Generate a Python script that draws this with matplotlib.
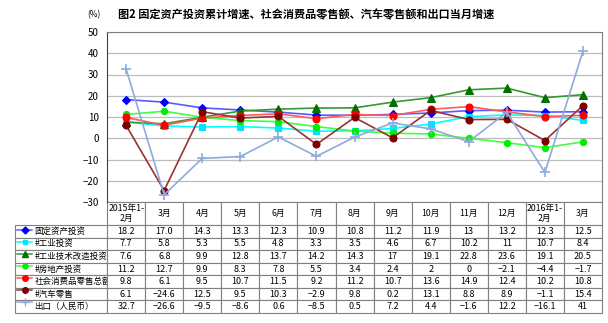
import matplotlib
matplotlib.use("Agg")
import matplotlib.pyplot as plt

plt.rcParams['font.family'] = ['Noto Sans CJK SC', 'DejaVu Sans']

months = ["2015年1-\n2月", "3月", "4月", "5月", "6月", "7月", "8月", "9月",
          "10月", "11月", "12月", "2016年1-\n2月", "3月"]

fixed_invest = [18.2, 17.0, 14.3, 13.3, 12.3, 10.9, 10.8, 11.2, 11.9, 13, 13.2, 12.3, 12.5]
ind_invest = [7.7, 5.8, 5.3, 5.5, 4.8, 3.3, 3.5, 4.6, 6.7, 10.2, 11, 10.7, 8.4]
tech_invest = [7.6, 6.8, 9.9, 12.8, 13.7, 14.2, 14.3, 17, 19.1, 22.8, 23.6, 19.1, 20.5]
estate_invest = [11.2, 12.7, 9.9, 8.3, 7.8, 5.5, 3.4, 2.4, 2, 0, -2.1, -4.4, -1.7]
retail = [9.8, 6.1, 9.5, 10.7, 11.5, 9.2, 11.2, 10.7, 13.6, 14.9, 12.4, 10.2, 10.8]
auto = [6.1, -24.6, 12.5, 9.5, 10.3, -2.9, 9.8, 0.2, 13.1, 8.8, 8.9, -1.1, 15.4]
export = [32.7, -26.6, -9.5, -8.6, 0.6, -8.5, 0.5, 7.2, 4.4, -1.6, 12.2, -16.1, 41]

names = ["固定资产投资", "#工业投资", "#工业技术改造投资", "#房地产投资",
         "社会消费品零售总额", "#汽车零售", "出口（人民币）"]
series = [fixed_invest, ind_invest, tech_invest, estate_invest, retail, auto, export]
# (line colour, marker, marker colour, marker size)
styles = [("#5a5aff", "D", "#0000ff", 4.5),
          ("#00ffff", "s", "#00e5ff", 4.5),
          ("#339933", "^", "#007000", 5.5),
          ("#40ff40", "o", "#00ee00", 4.5),
          ("#ff5a5a", "o", "#ff0000", 5),
          ("#993333", "o", "#800000", 5),
          ("#8faadc", "+", "#8faadc", 7)]


def fmt(v):
    return str(v).replace("-", "−")


def main():
    fig = plt.figure(figsize=(6.08, 3.23), dpi=100)
    ax = fig.add_axes([107 / 608, 1 - 202 / 323, 495 / 608, 170 / 323])

    x = list(range(len(months)))
    for vals, (lc, mk, mc, ms) in zip(series, styles):
        ax.plot(x, vals, color=lc, lw=1.2, marker=mk, markersize=ms,
                markerfacecolor=mc, markeredgecolor=mc,
                markeredgewidth=1.2 if mk == "+" else 0.8)

    ax.set_xlim(-0.5, len(months) - 0.5)
    ax.set_ylim(-30, 50)
    ax.set_yticks(range(-30, 51, 10))
    ax.set_yticklabels([fmt(t) for t in range(-30, 51, 10)], fontsize=7)
    ax.set_xticks([])
    ax.tick_params(axis="y", length=0, pad=6)
    ax.yaxis.grid(True, color="#bdbdbd", lw=0.9)
    ax.set_axisbelow(True)
    for side in ["top", "right"]:
        ax.spines[side].set_color("#808080")
    ax.spines["left"].set_color("#404040")
    ax.spines["bottom"].set_visible(False)

    # first column holds the series names (legend)
    cell_text = [[n] + [fmt(v) for v in vals] for n, vals in zip(names, series)]
    tbl = ax.table(cellText=cell_text, colLabels=[""] + months,
                   cellLoc="center",
                   colWidths=[92 / 495] + [38 / 495] * len(months),
                   bbox=[-92 / 495, -111 / 170, 587 / 495, 111 / 170])
    tbl.auto_set_font_size(False)
    tbl.set_fontsize(6.5)
    for (r, c), cell in tbl.get_celld().items():
        cell.set_edgecolor("#808080")
        cell.set_linewidth(0.8)
        cell.set_height(22 / 170 if r == 0 else 12 / 170)
        if r == 0:
            cell.get_text().set_fontsize(6.3)
            if c == 0:
                cell.visible_edges = ""
        if c == 0 and r > 0:
            cell._loc = "left"
            cell.get_text().set_ha("left")
            cell.PAD = 0.21
            cell.get_text().set_fontsize(6.1)

    # legend keys in the name cells
    for i, (lc, mk, mc, ms) in enumerate(styles):
        yc = 1 - (224 + 12 * i + 6) / 323
        fig.add_artist(plt.Line2D([17 / 608, 32 / 608], [yc, yc], color=lc, lw=1.1))
        fig.add_artist(plt.Line2D([24.5 / 608], [yc], marker=mk, markersize=ms - 1,
                                  markerfacecolor=mc, markeredgecolor=mc, color=lc))

    fig.text(306 / 608, 1 - 15 / 323,
             "图2 固定资产投资累计增速、社会消费品零售额、汽车零售额和出口当月增速",
             ha="center", va="center", fontsize=8, fontweight="bold")
    fig.text(94 / 608, 1 - 15 / 323, "(%)", ha="center", va="center", fontsize=6)

    fig.savefig("out.png", dpi=100, facecolor="white")


if __name__ == "__main__":
    main()
